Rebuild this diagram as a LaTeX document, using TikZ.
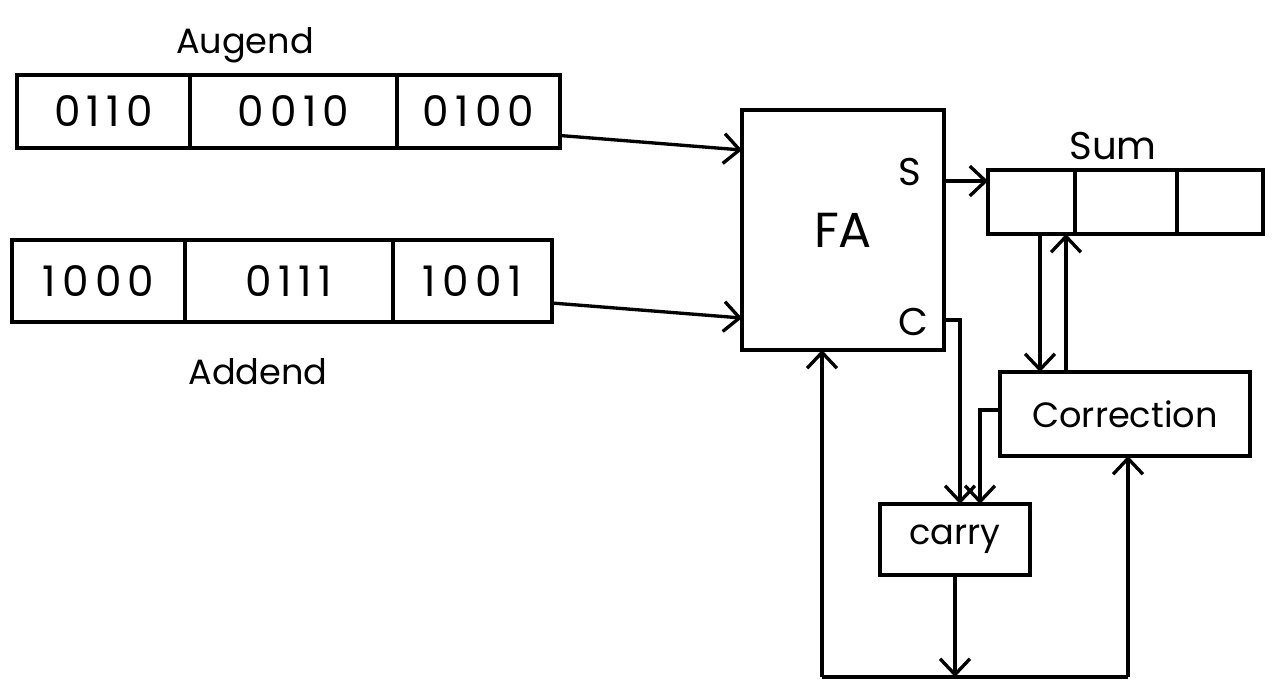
\documentclass[tikz,border=0pt]{standalone}
\usepackage{fontspec}
\setmainfont{Poppins}
\newfontfamily\digfont[LetterSpace=15]{Poppins}
\usetikzlibrary{arrows.meta,calc}
\tikzset{
  cell/.style={draw, line width=1.9pt, inner sep=0pt, outer sep=0pt, anchor=west,
    font=\digfont\fontsize{24}{26}\selectfont},
  blk/.style={draw, line width=1.9pt, inner sep=0pt, outer sep=0pt},
  lbl/.style={font=\fontsize{20}{22}\selectfont},
  wire/.style={line width=1.9pt},
  arr/.style={wire, -{Straight Barb[length=9pt,width=17pt,line width=1.9pt]}}
}
\begin{document}
\begin{tikzpicture}[x=0.02cm,y=-0.02cm]
\fill[white] (0,0) rectangle (1280,698);
\useasboundingbox (0,0) rectangle (1280,698);
% Augend register
\node[cell, minimum width=3.46cm, minimum height=1.46cm] (a1) at (17,111.5) {0110};
\node[cell, minimum width=4.14cm, minimum height=1.46cm] (a2) at (a1.east) {0010};
\node[cell, minimum width=3.26cm, minimum height=1.46cm] (a3) at (a2.east) {0100};
\node[lbl] (aug) at (245,45) {Augend};
% Addend register
\node[cell, minimum width=3.46cm, minimum height=1.64cm] (d1) at (12,281) {1000};
\node[cell, minimum width=4.16cm, minimum height=1.64cm] (d2) at (d1.east) {0111};
\node[cell, minimum width=3.18cm, minimum height=1.64cm] (d3) at (d2.east) {1001};
\node[lbl] (add) at (258,372) {Addend};
% Full adder
\node[blk, minimum width=4.04cm, minimum height=4.8cm, font=\fontsize{28}{30}\selectfont] (FA) at (843,230) {FA};
\node[font=\fontsize{22}{24}\selectfont] (S) at (910,172) {S};
\node[font=\fontsize{22}{24}\selectfont] (C) at (913,322) {C};
% Sum register
\node[cell, minimum width=1.74cm, minimum height=1.28cm] (s1) at (988,202) {};
\node[cell, minimum width=2.04cm, minimum height=1.28cm] (s2) at (s1.east) {};
\node[cell, minimum width=1.72cm, minimum height=1.28cm] (s3) at (s2.east) {};
\node[lbl, font=\fontsize{22}{24}\selectfont] (sum) at (1113,146) {Sum};
% Correction and carry
\node[blk, lbl, minimum width=5cm, minimum height=1.68cm] (corr) at (1125,414) {Correction};
\node[blk, lbl, minimum width=3cm, minimum height=1.42cm] (carry) at (955,539.5) {carry};
% inputs to FA
\draw[arr] ($(a3.east)+(0,24)$) -- ($(FA.west)+(0,-80)$);
\draw[arr] ($(d3.east)+(0,22)$) -- ($(FA.west)+(0,88)$);
% S to sum
\draw[arr] ($(FA.east)+(0,-49)$) -- ($(s1.west)+(0,-21)$);
% sum <-> correction
\coordinate (dn) at ($(s1.south)+(8.5,0)$);
\coordinate (up) at ($(s1.south east)+(-9,0)$);
\draw[arr] (dn) -- (dn |- corr.north);
\draw[arr] (up |- corr.north) -- (up);
% C to carry, correction to carry
\draw[arr] ($(FA.east)+(0,90)$) -| ($(carry.north)+(5,0)$);
\draw[arr] ($(corr.west)+(0,-4)$) -| ($(carry.north)+(25,0)$);
% carry feedback loop
\coordinate (bl) at (822,677);
\coordinate (br) at (1128,677);
\draw[arr] (carry.south) -- (carry.south |- bl);
\draw[wire] (bl) -- (br);
\draw[arr] (bl) -- (bl |- FA.south);
\draw[arr] (br) -- (br |- corr.south);
\end{tikzpicture}
\end{document}
